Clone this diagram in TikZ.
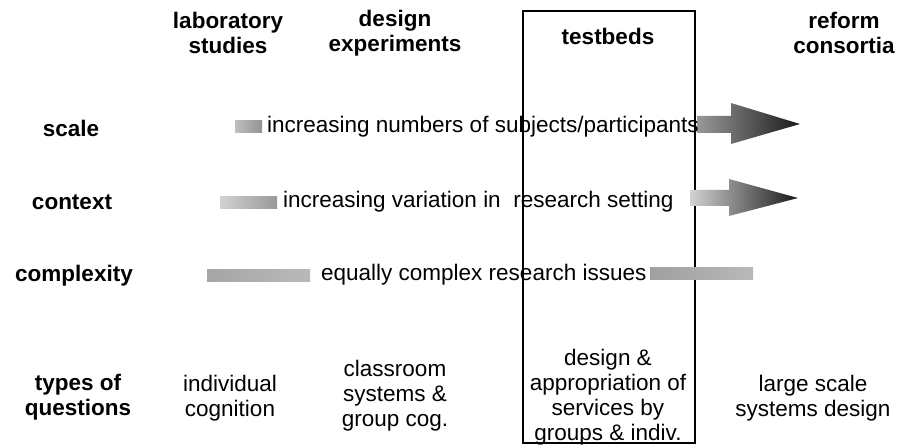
\documentclass[tikz,border=0pt]{standalone}
\usepackage{fontspec}
\setmainfont{Liberation Sans}
\begin{document}
\begin{tikzpicture}[x=1pt,y=-1pt,
  hdr/.style={font=\fontsize{22.5}{25}\selectfont\bfseries,align=center,inner sep=0pt},
  rowlab/.style={font=\fontsize{22.5}{25}\selectfont\bfseries,align=center,inner sep=0pt},
  txt/.style={font=\fontsize{22.5}{25}\selectfont,align=center,inner sep=0pt}]
\useasboundingbox (0,0) rectangle (897,446);
% testbeds box
\draw[line width=2.5pt] (523,11) rectangle (695,443);
% headers
\node[hdr] (hlab) at (228,33) {laboratory\\studies};
\node[hdr] (hdes) at (395,33) {design\\experiments};
\node[hdr] (htest) at (608,36) {testbeds};
\node[hdr] (href) at (844,33) {reform\\consortia};
% row labels
\node[rowlab] (rscale) at (71,128) {scale};
\node[rowlab] (rctx) at (72,202) {context};
\node[rowlab] (rcomp) at (74,276) {complexity};
\node[rowlab] (rtypes) at (78,397) {types of\\questions};
% gray bars and arrows
\shade[left color=gray!50,right color=gray!85] (235,121) rectangle (262,133);
\shade[left color=gray!35,right color=gray!80] (220,197) rectangle (277,209);
\shade[left color=gray!70,right color=gray!55] (207,270) rectangle (310,282);
\shade[left color=gray!80,right color=black!90] (697,116) -- (731,116) -- (731,103) -- (800,124) -- (731,144) -- (731,133) -- (697,133) -- cycle;
\shade[left color=gray!35,right color=black!90] (690,190) -- (729,190) -- (729,179) -- (798,198) -- (729,216) -- (729,206) -- (690,206) -- cycle;
\shade[left color=gray!75,right color=gray!55] (650,268) rectangle (753,280);
% arrow texts
\node[txt,anchor=west] (tscale) at (267,127) {increasing numbers of subjects/participants};
\node[txt,anchor=west] (tctx) at (283,202) {increasing variation in\ \ research setting};
\node[txt,anchor=west] (tcomp) at (321,275) {equally complex research issues};
% bottom row
\node[txt] (blab) at (230,398) {individual\\cognition};
\node[txt] (bdes) at (395,396) {classroom\\systems \&\\group cog.};
\node[txt] (btest) at (608,397) {design \&\\appropriation of\\services by\\groups \& indiv.};
\node[txt] (bref) at (813,398) {large scale\\systems design};
\end{tikzpicture}
\end{document}
